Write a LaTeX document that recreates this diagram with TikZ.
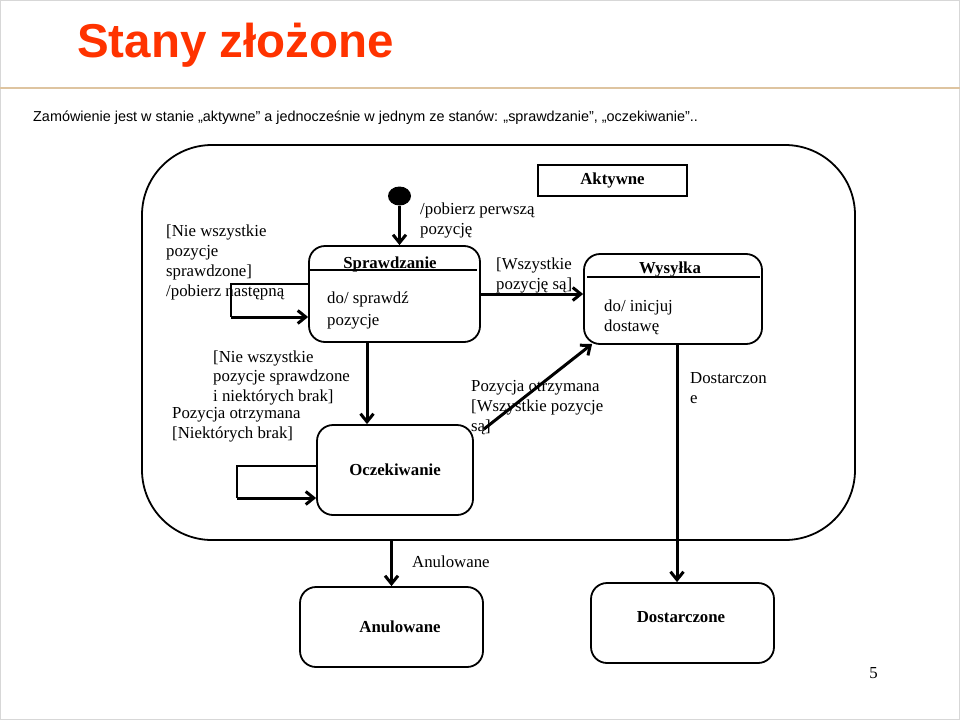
\documentclass[tikz,border=0pt]{standalone}
\usepackage{fontspec}
\setmainfont{Liberation Serif}
\newfontfamily\arialfont{Liberation Sans}
\usetikzlibrary{arrows.meta,calc,shapes.geometric}
\definecolor{titlered}{RGB}{255,51,0}
\definecolor{tanline}{RGB}{222,196,160}
\definecolor{framegray}{RGB}{215,215,215}
\begin{document}
\begin{tikzpicture}[x=1pt,y=-1pt,
  lbl/.style={font=\fontsize{16.8}{19.7}\selectfont, inner sep=0, align=left, anchor=west},
  ttl/.style={font=\fontsize{16.8}{19.7}\selectfont\bfseries, inner sep=0},
  st/.style={draw, line width=1.8pt, rounded corners=16pt, inner sep=0},
  arr/.style={line width=3pt, -{Straight Barb[length=8pt,width=13pt]}},
  thinline/.style={line width=1.3pt}
]
\useasboundingbox (0,0) rectangle (960,720);
\draw[framegray, line width=1pt] (0.5,0.5) rectangle (959.5,719.5);

% header
\node[anchor=base west, inner sep=0, text=titlered, font={\fontsize{47.5}{50}\arialfont\bfseries}] (title) at (77,57) {Stany złożone};
\draw[tanline, line width=1.6pt] (0,88) -- (960,88);
\node[anchor=base west, inner sep=0, font={\fontsize{14.4}{17}\arialfont}] (sub) at (33,121) {Zamówienie jest w stanie „aktywne” a jednocześnie w jednym ze stanów: „sprawdzanie”, „oczekiwanie”..};

% composite state
\node[draw, line width=1.8pt, rounded corners=70pt, minimum width=713pt, minimum height=395pt] (akt) at (498.5,342.5) {};
\node[draw, line width=1.5pt, minimum width=149pt, minimum height=31pt, ttl] (aktlabel) at (612.5,180.5) {Aktywne};

% initial
\node[ellipse, fill, minimum width=23pt, minimum height=19pt, inner sep=0] (init) at (399.5,196) {};

% Sprawdzanie
\node[st, minimum width=171pt, minimum height=96pt] (spr) at (394.5,294) {};
\draw[thinline] ($(spr.north west)+(0,25)$) -- ($(spr.north east)+(-4,25)$);
\node[ttl] (sprt) at (390,264) {Sprawdzanie};
\node[lbl, font=\fontsize{16.8}{22}\selectfont] (sprd) at (327,310) {do/ sprawdź\\pozycje};

% Wysylka
\node[st, minimum width=178pt, minimum height=90pt] (wys) at (673,299) {};
\draw[thinline] ($(wys.north west)+(4,24)$) -- ($(wys.north east)+(-3,24)$);
\node[ttl] (wyst) at (670,269) {Wysyłka};
\node[lbl] (wysd) at (604,317) {do/ inicjuj\\dostawę};

% Oczekiwanie
\node[st, ttl, minimum width=156pt, minimum height=90pt] (ocz) at (395,470) {Oczekiwanie};

% final states
\node[st, minimum width=183pt, minimum height=80pt] (anu) at (391.5,627) {};
\node[ttl] (anut) at (400,627) {Anulowane};
\node[st, minimum width=183pt, minimum height=80pt] (dost) at (682.5,623) {};
\node[ttl] (dostt) at (681,617) {Dostarczone};

% self loops
\coordinate (l1a) at (231,284);
\coordinate (l1b) at (231,317);
\draw[thinline] (spr.west |- l1a) -- (l1a) -- (l1b);
\draw[arr] (l1b) -- (spr.west |- l1b);
\coordinate (l2a) at (237,466);
\coordinate (l2b) at (237,498);
\draw[thinline] (ocz.west |- l2a) -- (l2a) -- (l2b);
\draw[arr] (l2b) -- (ocz.west |- l2b);

% transitions
\draw[arr] (init.south) -- (init.south |- spr.north);
\draw[arr] (spr.east) -- (spr.east -| wys.west);
\draw[arr] ([xshift=-27.5pt]spr.south) -- ([xshift=-27.5pt]spr.south |- ocz.north);
\draw[arr] ($(ocz.north east)+(10,5)$) -- ($(wys.south west)+(9,-1)$);
\draw[arr] ([xshift=4pt]wys.south) -- ([xshift=4pt]wys.south |- dost.north);
\draw[arr] (anu.north |- akt.south) -- (anu.north);

% labels
\node[lbl] (t1) at (166,262.5) {[Nie wszystkie\\pozycje\\sprawdzone]\\/pobierz następną};
\node[lbl] (t2) at (420,220.5) {/pobierz perwszą\\pozycję};
\node[lbl] (t3) at (496,275.5) {[Wszystkie\\pozycję są]};
\node[lbl] (t4) at (213,377.7) {[Nie wszystkie\\pozycje sprawdzone\\i niektórych brak]};
\node[lbl] (t5) at (172,425) {Pozycja otrzymana\\{[}Niektórych brak]};
\node[lbl] (t6) at (471,407.5) {Pozycja otrzymana\\{[}Wszystkie pozycje\\są]};
\node[lbl] (t7) at (690,388) {Dostarczon\\e};
\node[lbl] (t8) at (412,562) {Anulowane};
\node[anchor=base, inner sep=0, font=\fontsize{16.8}{19.7}\selectfont] (pg) at (873.5,678) {5};
\end{tikzpicture}
\end{document}
